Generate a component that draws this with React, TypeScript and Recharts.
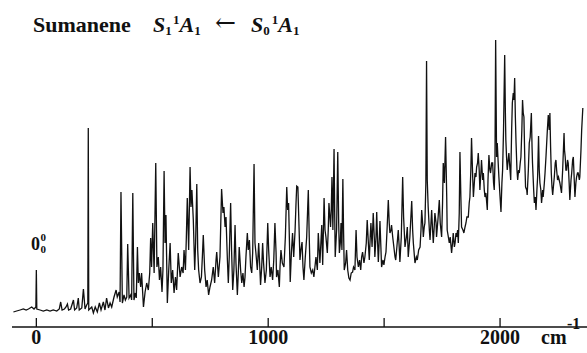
import { LineChart, Line, XAxis, YAxis } from "recharts";

// [wavenumber (cm-1), intensity (arb.)], left to right
const originRegion: [number, number][] = [
  [-99, 15], [-85, 16], [-70, 17], [-56, 18], [-44, 17], [-34, 18], [-20, 20], [-10, 18], [-2, 20], [0, 57],
  [2, 18], [16, 17], [30, 16], [45, 17], [59, 16], [73, 17], [88, 16], [99, 18], [105, 25], [111, 17],
  [121, 18], [128, 20], [134, 23], [139, 17], [148, 18], [160, 27], [165, 17], [174, 19], [181, 29], [185, 17],
  [196, 19], [203, 38], [210, 18], [217, 22], [222, 24], [224, 199], [226, 17], [239, 20], [246, 14], [254, 20],
  [263, 15], [272, 24], [279, 17], [289, 25], [296, 17], [303, 29], [311, 19], [318, 24], [325, 20], [335, 30],
  [344, 37],
];

const lowBands: [number, number][] = [
  [349, 30], [357, 35], [361, 25], [365, 135], [371, 24], [378, 32], [384, 27], [390, 30], [394, 83], [400, 29],
  [407, 32], [411, 27], [416, 134], [421, 27], [427, 34], [431, 29], [436, 80], [440, 44], [444, 54], [450, 40],
  [454, 54], [462, 20], [469, 35], [476, 44], [483, 37], [489, 54], [493, 89], [497, 60], [502, 104], [508, 54],
  [515, 164], [520, 60], [526, 70], [531, 47], [536, 60], [542, 35], [546, 57], [551, 156], [555, 84], [559, 112],
  [565, 24], [571, 57], [577, 84], [582, 44], [588, 57], [594, 34], [600, 50], [605, 37], [612, 74], [620, 50],
  [627, 60], [633, 54], [637, 77], [643, 57], [647, 90], [651, 129], [657, 77], [663, 160], [667, 120], [671, 137],
  [677, 107], [683, 57], [687, 84], [692, 143], [696, 77], [700, 57], [706, 44], [712, 50], [716, 70], [720, 92],
  [726, 57], [732, 40], [737, 47], [743, 32], [749, 40], [756, 47], [763, 60], [769, 44], [775, 67], [778, 75],
];

const midBands: [number, number][] = [
  [785, 50], [792, 70], [799, 138], [805, 114], [809, 120], [814, 100], [818, 110], [824, 67], [828, 44], [832, 70],
  [838, 124], [842, 77], [847, 37], [852, 57], [857, 102], [861, 64], [867, 32], [871, 54], [875, 80], [881, 57],
  [886, 44], [891, 54], [896, 40], [900, 50], [904, 70], [910, 94], [914, 77], [919, 87], [924, 60], [929, 54],
  [933, 74], [939, 163], [943, 84], [947, 74], [953, 57], [959, 84], [963, 64], [967, 42], [972, 60], [976, 84],
  [980, 64], [986, 44], [992, 57], [998, 104], [1002, 77], [1008, 50], [1013, 60], [1019, 47], [1024, 67], [1029, 104],
  [1034, 74], [1036, 50], [1042, 57], [1048, 40], [1051, 60], [1055, 77], [1061, 64], [1068, 60], [1074, 90], [1080, 140],
  [1084, 117], [1088, 124], [1093, 70], [1095, 45], [1100, 74], [1105, 94], [1110, 70], [1116, 97], [1120, 124], [1123, 141],
  [1128, 140], [1133, 100], [1137, 67], [1141, 77], [1146, 85], [1150, 60], [1154, 47], [1160, 70], [1166, 90], [1170, 117],
  [1173, 137], [1177, 90], [1180, 60], [1186, 54], [1192, 57], [1197, 50], [1206, 70], [1212, 57], [1216, 94],
];

const upperBands: [number, number][] = [
  [1223, 64], [1231, 102], [1235, 62], [1241, 129], [1245, 97], [1249, 90], [1255, 74], [1259, 97], [1262, 124], [1266, 110],
  [1269, 100], [1272, 117], [1275, 150], [1279, 97], [1284, 178], [1287, 110], [1289, 70], [1295, 97], [1300, 175], [1304, 104],
  [1307, 74], [1311, 84], [1314, 104], [1318, 77], [1322, 148], [1325, 97], [1328, 57], [1334, 64], [1338, 77], [1343, 57],
  [1348, 49], [1353, 47], [1358, 54], [1364, 55], [1368, 60], [1374, 57], [1379, 97], [1383, 70], [1389, 60], [1394, 67],
  [1399, 57], [1403, 70], [1407, 75], [1413, 64], [1417, 70], [1423, 84], [1427, 107], [1432, 84], [1436, 67], [1440, 90],
  [1443, 104], [1448, 80], [1453, 114], [1458, 87], [1460, 70], [1465, 90], [1468, 115], [1472, 84], [1475, 65], [1479, 87],
  [1482, 106], [1486, 80], [1489, 60], [1495, 67], [1499, 62], [1504, 70], [1508, 75], [1512, 94], [1518, 127], [1522, 104],
  [1525, 94], [1530, 97], [1532, 102], [1537, 90], [1542, 80], [1547, 70], [1550, 67], [1555, 80], [1561, 97], [1565, 80],
  [1568, 65], [1574, 90], [1580, 150], [1584, 110], [1590, 80], [1596, 90], [1600, 100],
];

const highBands: [number, number][] = [
  [1604, 70], [1611, 90], [1619, 126], [1623, 97], [1626, 84], [1633, 64], [1639, 70], [1643, 67], [1649, 77], [1655, 80],
  [1659, 97], [1662, 117], [1666, 104], [1669, 90], [1673, 100], [1676, 104], [1680, 144], [1683, 266], [1686, 147], [1690, 120],
  [1695, 97], [1698, 87], [1702, 104], [1705, 117], [1709, 97], [1712, 84], [1716, 100], [1719, 114], [1724, 104], [1726, 90],
  [1732, 107], [1738, 127], [1742, 104], [1748, 90], [1752, 124], [1755, 164], [1760, 144], [1765, 190], [1770, 130], [1772, 97],
  [1777, 90], [1781, 84], [1785, 90], [1791, 74], [1795, 84], [1798, 94], [1803, 80], [1806, 84], [1810, 94], [1813, 90],
  [1817, 97], [1820, 84], [1824, 114], [1827, 175], [1831, 130], [1834, 100], [1840, 97], [1844, 94], [1849, 100], [1853, 104],
  [1857, 110], [1863, 110], [1867, 124], [1870, 130], [1874, 157], [1877, 189], [1882, 150], [1885, 130], [1889, 144], [1892, 154],
  [1896, 150], [1899, 160], [1903, 164], [1906, 174], [1910, 157], [1913, 137], [1918, 157], [1920, 167], [1925, 147], [1928, 154],
  [1932, 137], [1935, 130], [1939, 134], [1945, 117], [1948, 147], [1952, 172], [1956, 157], [1959, 154], [1964, 164], [1968, 164],
  [1972, 144], [1975, 137], [1978, 164], [1981, 287],
];

const topBands: [number, number][] = [
  [1985, 170], [1988, 184], [1992, 164], [1995, 150], [2000, 130], [2004, 115], [2008, 144], [2011, 157], [2015, 197], [2020, 272],
  [2023, 214], [2025, 187], [2028, 170], [2031, 157], [2035, 167], [2038, 174], [2043, 157], [2046, 147], [2050, 197], [2053, 224],
  [2057, 234], [2060, 227], [2063, 249], [2066, 210], [2069, 184], [2073, 157], [2076, 147], [2080, 157], [2083, 154], [2087, 164],
  [2090, 170], [2094, 197], [2097, 227], [2100, 214], [2103, 210], [2107, 164], [2110, 140], [2115, 137], [2117, 132], [2122, 157],
  [2126, 184], [2130, 190], [2135, 214], [2138, 180], [2140, 164], [2145, 137], [2148, 124], [2152, 130], [2155, 117], [2159, 137],
  [2162, 150], [2166, 191], [2169, 157], [2172, 144], [2176, 137], [2179, 124], [2184, 137], [2186, 130], [2191, 144], [2194, 154],
  [2198, 170], [2204, 197], [2208, 212], [2212, 197], [2215, 214], [2218, 180], [2221, 154], [2224, 140], [2227, 132], [2230, 140],
  [2234, 150], [2238, 164], [2241, 167], [2244, 157], [2248, 147], [2252, 150], [2258, 144], [2263, 137], [2265, 134], [2270, 157],
  [2276, 194], [2278, 177], [2281, 170], [2284, 157], [2287, 157], [2291, 167], [2294, 164], [2298, 144], [2301, 127], [2306, 147],
  [2309, 154], [2313, 167], [2316, 170], [2320, 147], [2323, 130], [2327, 144], [2330, 150], [2334, 154], [2337, 154], [2342, 147],
  [2344, 150], [2349, 177], [2352, 197], [2357, 219],
];

const axisTicks = [0, 500, 1000, 1500, 2000];
const labelledTicks = [0, 1000, 2000];

const W = 587;
const H = 353;
const serif = { fontFamily: "'Liberation Serif', 'DejaVu Serif', serif" };

const spectrum = [...originRegion, ...lowBands, ...midBands, ...upperBands, ...highBands, ...topBands].map(
  ([cm, intensity]) => ({ cm, intensity })
);

function AxisTick({ x, y, payload }: any) {
  const v = payload?.value;
  return (
    <g>
      <line x1={x} x2={x} y1={y} y2={y - 9} stroke="#111" strokeWidth={1.3} />
      {labelledTicks.includes(v) && (
        <text x={x} y={y + 17} textAnchor="middle" style={serif} fontWeight="bold" fontSize={20} fill="#111">
          {v}
        </text>
      )}
    </g>
  );
}

export default function App() {
  return (
    <div style={{ position: "absolute", left: 0, top: 0, width: W, height: H, background: "#fff" }}>
      <LineChart width={W} height={H} data={spectrum} margin={{ top: 27, right: 0, bottom: 0, left: 12 }}>
        <XAxis
          type="number"
          dataKey="cm"
          domain={[-105, 2375]}
          ticks={axisTicks}
          interval={0}
          allowDataOverflow
          height={26}
          tickSize={0}
          tickMargin={0}
          tickLine={false}
          axisLine={{ stroke: "#111", strokeWidth: 1.3 }}
          tick={<AxisTick />}
        />
        <YAxis hide domain={[0, 300]} allowDataOverflow />
        <Line
          type="linear"
          dataKey="intensity"
          stroke="#111"
          strokeWidth={1.3}
          dot={false}
          isAnimationActive={false}
        />
      </LineChart>

      {/* title, band label and unit */}
      <svg
        width={W}
        height={H}
        style={{ position: "absolute", left: 0, top: 0, pointerEvents: "none", ...serif }}
        fontWeight="bold"
        fill="#111"
      >
        <text x={33} y={32} fontSize={22}>Sumanene</text>
        <text x={153} y={32} fontSize={22}>
          <tspan fontStyle="italic">S</tspan>
          <tspan fontSize={13} dy={3}>1</tspan>
          <tspan fontSize={13} dx={2} dy={-11}>1</tspan>
          <tspan fontStyle="italic" dy={8}>A</tspan>
          <tspan fontSize={13} dy={3}>1</tspan>
        </text>
        <text x={215} y={31} fontSize={25} style={{ fontFamily: "'DejaVu Serif'" }} fontWeight="normal">←</text>
        <text x={251} y={32} fontSize={22}>
          <tspan fontStyle="italic">S</tspan>
          <tspan fontSize={13} dy={3}>0</tspan>
          <tspan fontSize={13} dx={2} dy={-11}>1</tspan>
          <tspan fontStyle="italic" dy={8}>A</tspan>
          <tspan fontSize={13} dy={3}>1</tspan>
        </text>

        <text x={31} y={250} fontSize={18}>0</text>
        <text x={40.5} y={241} fontSize={11}>0</text>
        <text x={40.5} y={253} fontSize={11}>0</text>

        <text x={541} y={344} fontSize={20}>cm</text>
        <text x={567} y={329} fontSize={16}>-1</text>
      </svg>
    </div>
  );
}
